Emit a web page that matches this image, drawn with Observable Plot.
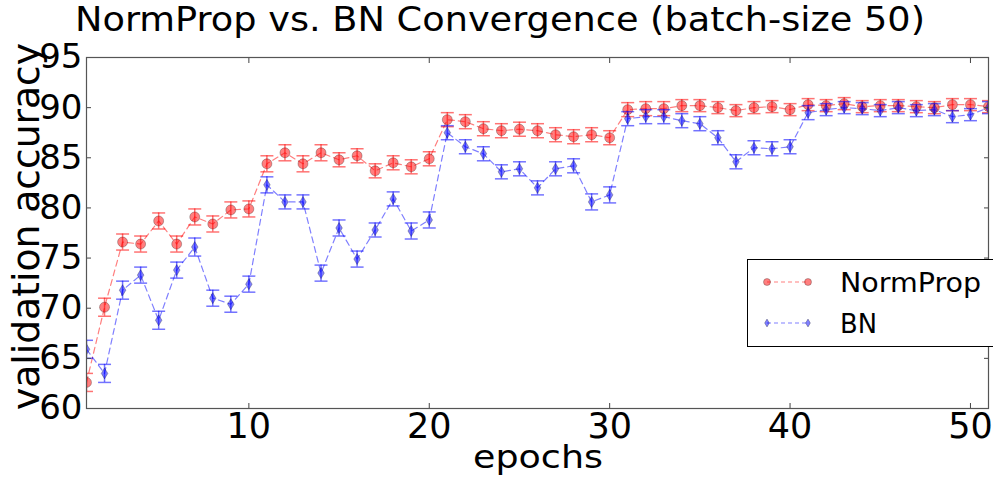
<!DOCTYPE html>
<html><head><meta charset="utf-8">
<script src="https://cdn.jsdelivr.net/npm/d3@7"></script>
<script src="https://cdn.jsdelivr.net/npm/@observablehq/plot@0.6"></script>
<style>body{margin:0;background:#fff;} #chart svg{font-family:"DejaVu Sans";color:#000;}</style>
</head><body><div id="chart"></div>
<script>
const epochs = [1,2,3,4,5,6,7,8,9,10,11,12,13,14,15,16,17,18,19,20,21,22,23,24,25,26,27,28,29,30,31,32,33,34,35,36,37,38,39,40,41,42,43,44,45,46,47,48,49,50,51];
const normProp = [62.6,70.1,76.6,76.4,78.7,76.4,79.1,78.4,79.8,79.9,84.4,85.5,84.4,85.5,84.8,85.2,83.7,84.5,84.1,84.9,88.8,88.6,87.9,87.7,87.85,87.7,87.3,87.1,87.3,87.0,89.8,89.9,89.9,90.2,90.2,90.0,89.7,90.0,90.1,89.8,90.3,90.2,90.4,90.1,90.2,90.2,90.1,90.0,90.3,90.3,90.1];
const normPropErr = [0.9,0.9,0.8,0.8,0.8,0.8,0.8,0.8,0.8,0.8,0.8,0.8,0.8,0.8,0.7,0.7,0.7,0.7,0.7,0.7,0.7,0.7,0.7,0.7,0.7,0.7,0.7,0.7,0.7,0.7,0.7,0.7,0.7,0.6,0.6,0.6,0.6,0.6,0.6,0.6,0.6,0.6,0.6,0.6,0.6,0.6,0.6,0.6,0.6,0.6,0.6];
const bn = [65.9,63.5,71.8,73.3,68.8,73.8,76.1,71.0,70.4,72.4,82.3,80.6,80.6,73.5,78.0,74.9,77.8,80.9,77.7,78.8,87.5,86.1,85.4,83.6,83.9,82.0,83.9,84.2,80.6,81.3,88.9,89.1,89.1,88.7,88.4,87.0,84.6,86.0,85.9,86.1,89.5,89.8,90.0,89.9,89.7,90.0,89.7,89.8,89.1,89.3,90.0];
const bnErr = [0.9,0.9,0.9,0.8,0.9,0.8,0.9,0.8,0.8,0.8,0.8,0.7,0.7,0.8,0.8,0.8,0.7,0.7,0.8,0.8,0.7,0.7,0.7,0.7,0.7,0.7,0.7,0.7,0.8,0.8,0.7,0.7,0.7,0.7,0.7,0.7,0.7,0.7,0.7,0.7,0.7,0.6,0.6,0.6,0.6,0.6,0.6,0.6,0.6,0.6,0.6];
const xTicks = [10,20,30,40,50];
const yTicks = [60,65,70,75,80,85,90,95];
const seriesNames = ["NormProp","BN"];
const seriesColors = ["#ff0000","#0000ff"];

const npData = epochs.map((e,i)=>({epoch:e, acc:normProp[i], err:normPropErr[i]}));
const bnData = epochs.map((e,i)=>({epoch:e, acc:bn[i], err:bnErr[i]}));

const thinDiamond = {
  draw(ctx, size) {
    const r = Math.sqrt(size/Math.PI);
    const h = r, w = r*0.6;
    ctx.moveTo(0,-h); ctx.lineTo(w,0); ctx.lineTo(0,h); ctx.lineTo(-w,0); ctx.closePath();
  }
};

function seriesMarks(data, color, symbol, r) {
  const capHalf = 0.36;
  return [
    Plot.line(data, {x:"epoch", y:"acc", stroke:color, strokeOpacity:0.5, strokeWidth:1.2, strokeDasharray:"6,4", clip:true}),
    Plot.ruleX(data, {x:"epoch", y1:d=>d.acc-d.err, y2:d=>d.acc+d.err, stroke:color, strokeOpacity:0.55, strokeWidth:1.5, clip:true}),
    Plot.link(data, {x1:d=>d.epoch-capHalf, x2:d=>d.epoch+capHalf, y1:d=>d.acc-d.err, y2:d=>d.acc-d.err, stroke:color, strokeOpacity:0.55, strokeWidth:1.5, clip:true}),
    Plot.link(data, {x1:d=>d.epoch-capHalf, x2:d=>d.epoch+capHalf, y1:d=>d.acc+d.err, y2:d=>d.acc+d.err, stroke:color, strokeOpacity:0.55, strokeWidth:1.5, clip:true}),
    Plot.dot(data, {x:"epoch", y:"acc", r, symbol, fill:color, fillOpacity:0.5, stroke:"#000", strokeOpacity:0.25, strokeWidth:1, clip:true})
  ];
}

const W = 993, H = 482;
const chart = Plot.plot({
  width: W, height: H,
  marginTop: 57, marginLeft: 86, marginRight: 5, marginBottom: 74,
  style: {fontFamily: "DejaVu Sans", color: "#000", background: "#fff"},
  x: {domain: [1, 51]},
  y: {domain: [60, 95]},
  marks: [
    ...seriesMarks(npData, seriesColors[0], "circle", 5),
    ...seriesMarks(bnData, seriesColors[1], thinDiamond, 5.5),
    Plot.axisX({anchor:"bottom", ticks:xTicks, tickSize:0, tickPadding:5, fontSize:35, label:null}),
    Plot.axisX({anchor:"bottom", ticks:xTicks, tickSize:-5, tickFormat:()=>"", label:null, stroke:"#444"}),
    Plot.axisX({anchor:"top", ticks:xTicks, tickSize:-5, tickFormat:()=>"", label:null, stroke:"#444"}),
    Plot.axisY({anchor:"left", ticks:yTicks, tickSize:0, tickPadding:4, fontSize:34, label:null}),
    Plot.axisY({anchor:"left", ticks:yTicks, tickSize:-5, tickFormat:()=>"", label:null, stroke:"#444"}),
    Plot.axisY({anchor:"right", ticks:yTicks, tickSize:-5, tickFormat:()=>"", label:null, stroke:"#444"}),
    Plot.frame({stroke:"#555", strokeWidth:1.2})
  ]
});
document.getElementById("chart").appendChild(chart);

const svg = d3.select(chart);
svg.append("text").attr("x", 500).attr("y", 31).attr("text-anchor","middle")
  .attr("font-size", 33).attr("fill","#000")
  .attr("textLength", 850).attr("lengthAdjust","spacingAndGlyphs")
  .text("NormProp vs. BN Convergence (batch-size 50)");
svg.append("text").attr("x", 538).attr("y", 468).attr("text-anchor","middle")
  .attr("font-size", 32).attr("fill","#000")
  .attr("textLength", 130).attr("lengthAdjust","spacingAndGlyphs")
  .text("epochs");
svg.append("text").attr("transform","translate(39,226.5) rotate(-90)").attr("text-anchor","middle")
  .attr("font-size", 38).attr("fill","#000")
  .attr("textLength", 367).attr("lengthAdjust","spacingAndGlyphs")
  .text("validation accuracy");

// legend
const lg = svg.append("g").attr("text-anchor","start");
lg.append("rect").attr("x",747.5).attr("y",259.5).attr("width",260).attr("height",87)
  .attr("fill","#fff").attr("stroke","#000").attr("stroke-width",1);
const rows = [
  {name: seriesNames[0], color: seriesColors[0], y: 282, sym: "circle", len: 141},
  {name: seriesNames[1], color: seriesColors[1], y: 323, sym: "diamond", len: 37}
];
rows.forEach(row => {
  lg.append("line").attr("x1",767).attr("x2",808).attr("y1",row.y).attr("y2",row.y)
    .attr("stroke",row.color).attr("stroke-opacity",0.5).attr("stroke-width",1.2).attr("stroke-dasharray","4,3");
  [767,808].forEach(cx => {
    if (row.sym === "circle") {
      lg.append("circle").attr("cx",cx).attr("cy",row.y).attr("r",3.5)
        .attr("fill",row.color).attr("fill-opacity",0.5).attr("stroke","#000").attr("stroke-opacity",0.25);
    } else {
      lg.append("path").attr("d",`M${cx},${row.y-4}L${cx+2.4},${row.y}L${cx},${row.y+4}L${cx-2.4},${row.y}Z`)
        .attr("fill",row.color).attr("fill-opacity",0.5).attr("stroke","#000").attr("stroke-opacity",0.25);
    }
  });
  lg.append("text").attr("x",840).attr("y",row.y+10).attr("font-size",27).attr("fill","#000")
    .attr("textLength", row.len).attr("lengthAdjust","spacingAndGlyphs").text(row.name);
});
</script>
</body></html>
